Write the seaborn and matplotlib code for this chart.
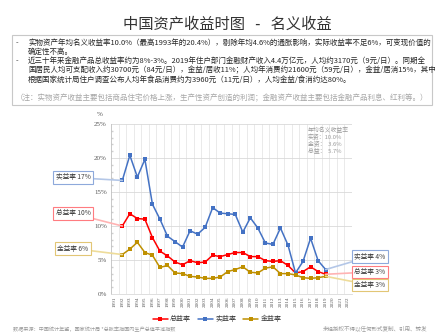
import matplotlib
matplotlib.use("Agg")
import matplotlib.pyplot as plt
from matplotlib.patches import Rectangle
from matplotlib.ticker import FixedLocator, MultipleLocator, FuncFormatter
import pandas as pd
import seaborn as sns

# ---- data -------------------------------------------------------------
axis_years = list(range(1991, 2023))
data_years = list(range(1992, 2020))

real_rate = [16.7, 20.4, 17.2, 19.8, 13.2, 11.0, 8.5, 7.7, 6.9, 9.3,
             8.8, 9.8, 12.7, 11.9, 11.8, 11.7, 9.1, 11.2, 9.7, 7.5,
             7.3, 9.7, 7.2, 3.1, 4.8, 8.2, 4.9, 3.6]
total_rate = [10.0, 11.8, 11.1, 11.0, 8.3, 6.3, 5.6, 4.7, 4.3, 4.9,
              4.6, 4.7, 5.7, 5.5, 5.8, 6.1, 6.1, 5.5, 5.5, 4.9,
              4.8, 4.9, 4.2, 3.1, 3.3, 4.0, 3.3, 2.9]
fin_rate = [5.8, 6.6, 7.6, 6.1, 5.7, 3.9, 4.2, 3.1, 3.0, 2.6,
            2.5, 2.3, 2.3, 2.5, 3.3, 3.6, 4.0, 3.2, 3.1, 3.8,
            4.0, 3.0, 3.0, 2.8, 2.4, 2.3, 2.4, 2.6]

series_names = ["总益率", "实益率", "金益率"]
series_values = {"总益率": total_rate, "实益率": real_rate, "金益率": fin_rate}
series_colors = {"总益率": "#FF0000", "实益率": "#4472C4", "金益率": "#BF9000"}
callout_edge = {"总益率": "#FF7C80", "实益率": "#8EA9DB", "金益率": "#E2C675"}
callout_line = {"总益率": "#FFB3B3", "实益率": "#B4C7E7", "金益率": "#EEDC9A"}

stats_lines = ["年均名义收益率", "实资：10.0%", "金资：  3.6%", "总益：  5.7%"]

title_text = "中国资产收益时图   -   名义收益"
bullet_lines = [
    ("-", "实物资产年均名义收益率10.0%（最高1993年的20.4%），剔除年均4.6%的通胀影响，实际收益率不足6%，可变现价值的"),
    ("", "确定性不高。"),
    ("-", "近三十年来金融产品总收益率约为8%-3%。2019年住户部门金融财产收入4.4万亿元，人均约3170元（9元/日）。同期全"),
    ("", "国居民人均可支配收入约30700元（84元/日），金益/居收11%；人均年消费约21600元（59元/日），金益/居消15%，其中"),
    ("", "根据国家统计局住户调查公布人均年食品消费约为3960元（11元/日），人均金益/食消约达80%。"),
]
note_text = "（注：实物资产收益主要包括商品住宅价格上涨，生产性资产创造的利润；金融资产收益主要包括金融产品利息、红利等。）"
source_text = "数据来源：中国统计年鉴，国家统计局 *总胀率指国内生产总值平减指数"
copyright_text = "未经授权不得以任何形式复制、引用、转发"

# ---- style ------------------------------------------------------------
sns.set_theme(style="white")
plt.rcParams["font.family"] = ["Noto Sans CJK SC", "DejaVu Sans"]
plt.rcParams["axes.unicode_minus"] = False

W, H = 444, 335
fig = plt.figure(figsize=(W / 100, H / 100), dpi=100)
fig.patch.set_facecolor("white")


def fx(px):
    return px / W


def fy(py):
    return 1 - py / H


# ---- header -----------------------------------------------------------
fig.text(fx(227), fy(24), title_text, ha="center", va="center",
         fontsize=11, color="#333333")

fig.add_artist(Rectangle((fx(12), fy(105)), fx(432) - fx(12), fy(35) - fy(105),
                         transform=fig.transFigure, fill=False,
                         edgecolor="#C8C8C8", linewidth=0.8))

line_y = [43, 52, 61, 70.5, 80]
for (bullet, txt), y in zip(bullet_lines, line_y):
    if bullet:
        fig.text(fx(16), fy(y), bullet, ha="left", va="center",
                 fontsize=5.4, color="#262626")
    fig.text(fx(28), fy(y), txt, ha="left", va="center",
             fontsize=5.4, color="#262626")
fig.text(fx(222), fy(98), note_text, ha="center", va="center",
         fontsize=5.4, color="#A6A6A6")

# ---- chart ------------------------------------------------------------
ax = fig.add_axes([fx(111), 41 / H, (352 - 111) / W, (294 - 124) / H])

df = pd.concat(
    [pd.DataFrame({"year": data_years, "rate": series_values[n], "series": n})
     for n in series_names],
    ignore_index=True,
)
sns.lineplot(data=df, x="year", y="rate", hue="series", hue_order=series_names,
             palette=series_colors, marker="s", markersize=2.6,
             markeredgewidth=0, linewidth=1.1, ax=ax, legend=True)

ax.set_xlim(axis_years[0] - 0.5, axis_years[-1] + 0.5)
ax.set_ylim(0, 25)
ax.set_xlabel("")
ax.set_ylabel("")

ax.xaxis.set_minor_locator(FixedLocator([y + 0.5 for y in axis_years[:-1]]))
ax.set_xticks(axis_years)
ax.set_xticklabels([str(y) for y in axis_years], rotation=90,
                   fontsize=3.8, color="#595959", family="Liberation Serif")
ax.yaxis.set_major_locator(MultipleLocator(5))
ax.yaxis.set_minor_locator(MultipleLocator(1))
ax.yaxis.set_major_formatter(FuncFormatter(lambda v, p: f"{v:.0f}%"))
for lab in ax.get_yticklabels():
    lab.set_family("Liberation Serif")
ax.tick_params(axis="y", which="major", labelsize=5, colors="#595959",
               length=0, pad=3)
ax.tick_params(axis="y", which="minor", length=1.5, color="#D0D0D0",
               direction="in", left=True)
ax.tick_params(axis="x", which="both", length=0, pad=2)

ax.grid(axis="y", which="major", color="#D9D9D9", linewidth=0.6)
ax.grid(axis="x", which="minor", color="#E7E7E7", linewidth=0.6)
ax.set_axisbelow(True)
for side in ["top", "right"]:
    ax.spines[side].set_visible(False)
ax.spines["left"].set_color("#BFBFBF")
ax.spines["left"].set_linewidth(0.6)
ax.spines["bottom"].set_color("#D9D9D9")
ax.spines["bottom"].set_linewidth(0.6)

fig.text(fx(100), fy(114), "%", ha="center", va="center", fontsize=5,
         color="#595959", family="Liberation Serif")

# average rates block
for i, s in enumerate(stats_lines):
    fig.text(fx(308), fy(130 + 7 * i), s, ha="left", va="center",
             fontsize=4.2, color="#999999")

# ---- callouts ---------------------------------------------------------
left_pos = {"实益率": 177.5, "总益率": 213.5, "金益率": 248.5}
right_pos = {"实益率": 256.5, "总益率": 272, "金益率": 285}
for name in series_names:
    vals = series_values[name]
    for idx, xpix, ypos in [(0, 73, left_pos), (-1, 370, right_pos)]:
        v = vals[idx]
        ax.annotate(f"{name} {round(v):.0f}%", xy=(data_years[idx], v),
                    xytext=(xpix, H - ypos[name]), textcoords="figure pixels",
                    ha="center", va="center", fontsize=4.8, color="#404040",
                    bbox=dict(boxstyle="square,pad=0.35", facecolor="white",
                              edgecolor=callout_edge[name], linewidth=0.8),
                    arrowprops=dict(arrowstyle="-", color=callout_line[name],
                                    linewidth=1.2, shrinkA=0, shrinkB=0))

# ---- legend -----------------------------------------------------------
handles, labels = ax.get_legend_handles_labels()
ax.legend(handles, labels, loc="center", ncol=3, frameon=False,
          bbox_to_anchor=(fx(217), 1 - (319 / H)), bbox_transform=fig.transFigure,
          fontsize=5, handlelength=2.2, handletextpad=0.3, columnspacing=1.0,
          labelcolor="#404040")

# ---- footer -----------------------------------------------------------
fig.text(fx(13), fy(329), source_text, ha="left", va="center",
         fontsize=3.7, color="#999999")
fig.text(fx(427), fy(329), copyright_text, ha="right", va="center",
         fontsize=4, color="#999999")

fig.savefig("out.png", dpi=100, facecolor="white")
